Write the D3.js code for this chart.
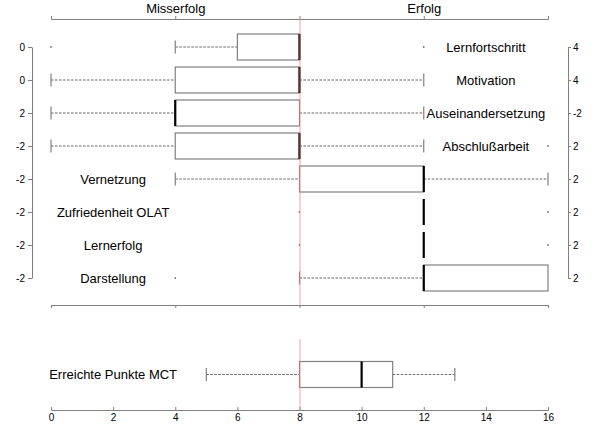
<!DOCTYPE html>
<html><head><meta charset="utf-8">
<script src="https://cdn.jsdelivr.net/npm/d3@7"></script>
<style>
body{margin:0;background:#fff;}
svg{font-family:"Liberation Sans",Arial,sans-serif;}
</style></head>
<body><svg id="c" width="600" height="425"></svg>
<script>
const categories = ["Lernfortschritt","Motivation","Auseinandersetzung","Abschlußarbeit","Vernetzung","Zufriedenheit OLAT","Lernerfolg","Darstellung"];
const labelPos = [14,14,14,14,2,2,2,2];
const leftLabels = ["0","0","2","-2","-2","-2","-2","-2"];
const rightLabels = ["4","4","-2","2","2","2","2","2"];
const whiskerLo = [4,0,0,0,4,12,12,8];
const q1 = [6,4,4,4,8,12,12,12];
const median = [8,8,4,8,12,12,12,12];
const q3 = [8,8,8,8,12,12,12,16];
const whiskerHi = [8,12,12,12,16,12,12,16];
const outliers = [[0,12],[],[],[16],[],[8,16],[8,16],[4]];

const mctCategory = ["Erreichte Punkte MCT"];
const mctLabelPos = [2];
const mctWhiskerLo = [5];
const mctQ1 = [8];
const mctMedian = [10];
const mctQ3 = [11];
const mctWhiskerHi = [13];
const mctOutliers = [[]];

const topTicks = [0,4,8,12,16];
const topTickLabels = {4:"Misserfolg",12:"Erfolg"};
const bottomTicks = [0,2,4,6,8,10,12,14,16];
const threshold = 8;

const svg = d3.select("#c");
const x = d3.scaleLinear().domain([0,16]).range([51,548]);
const y = d3.scalePoint().domain(categories).range([47,278]);
const y2 = d3.scalePoint().domain(mctCategory).range([360,389]).padding(0.5);
const boxH = 26, staple = 13;
const gray = "#808080";

function styleAxis(g){
  g.selectAll("path.domain").attr("stroke",gray);
  g.selectAll(".tick line").attr("stroke",gray);
  g.selectAll(".tick text").attr("fill","#000");
}

svg.append("g").attr("transform","translate(0,19)")
  .call(d3.axisTop(x).tickValues(topTicks).tickSizeInner(3).tickSizeOuter(3).tickPadding(3)
    .tickFormat(d=>topTickLabels[d]||""))
  .call(g=>g.selectAll("text").attr("font-size",13).attr("font-family","Liberation Sans, Arial, sans-serif"))
  .call(styleAxis);

svg.append("g").attr("transform","translate(0,305)")
  .call(d3.axisBottom(x).tickValues(topTicks).tickSizeInner(3).tickSizeOuter(3).tickFormat(""))
  .call(styleAxis);

svg.append("g").attr("transform","translate(32,0)")
  .call(d3.axisLeft(y).tickSizeInner(4).tickSizeOuter(0).tickPadding(3)
    .tickFormat((d,i)=>leftLabels[i]))
  .call(g=>g.selectAll("text").attr("font-size",10).attr("font-family","Liberation Sans, Arial, sans-serif"))
  .call(styleAxis);

svg.append("g").attr("transform","translate(568,0)")
  .call(d3.axisRight(y).tickSizeInner(3).tickSizeOuter(0).tickPadding(2)
    .tickFormat((d,i)=>rightLabels[i]))
  .call(g=>g.selectAll("text").attr("font-size",10).attr("font-family","Liberation Sans, Arial, sans-serif"))
  .call(styleAxis);

svg.append("g").attr("transform","translate(0,410)")
  .call(d3.axisBottom(x).tickValues(bottomTicks).tickSizeInner(-3).tickSizeOuter(-3).tickPadding(4))
  .call(g=>g.selectAll("text").attr("font-size",10).attr("font-family","Liberation Sans, Arial, sans-serif"))
  .call(styleAxis);

function drawBoxes(cats, yS, lo, a, m, b, hi, outs, lp){
  const g = svg.append("g");
  cats.forEach((c,i)=>{
    const cy = yS(c);
    g.append("text").attr("x",x(lp[i])).attr("y",cy).attr("dy","0.35em")
      .attr("text-anchor","middle").attr("font-size",13).attr("fill","#000").text(c);
    const dash = "2.5,1.5";
    if(lo[i] < a[i]){
      g.append("line").attr("x1",x(lo[i])).attr("x2",x(a[i])).attr("y1",cy).attr("y2",cy)
        .attr("stroke","#666").attr("stroke-dasharray",dash);
      g.append("line").attr("x1",x(lo[i])).attr("x2",x(lo[i])).attr("y1",cy-staple/2).attr("y2",cy+staple/2)
        .attr("stroke",gray).attr("stroke-width",1.2);
    }
    if(hi[i] > b[i]){
      g.append("line").attr("x1",x(b[i])).attr("x2",x(hi[i])).attr("y1",cy).attr("y2",cy)
        .attr("stroke","#666").attr("stroke-dasharray",dash);
      g.append("line").attr("x1",x(hi[i])).attr("x2",x(hi[i])).attr("y1",cy-staple/2).attr("y2",cy+staple/2)
        .attr("stroke",gray).attr("stroke-width",1.2);
    }
    if(b[i] > a[i]){
      g.append("rect").attr("x",x(a[i])).attr("y",cy-boxH/2).attr("width",x(b[i])-x(a[i])).attr("height",boxH)
        .attr("fill","#fff").attr("stroke",gray).attr("stroke-width",1.2);
    }
    g.append("line").attr("x1",x(m[i])).attr("x2",x(m[i])).attr("y1",cy-boxH/2).attr("y2",cy+boxH/2)
      .attr("stroke","#000").attr("stroke-width",2.2);
    outs[i].forEach(o=>{
      g.append("rect").attr("x",x(o)-0.7).attr("y",cy-0.7).attr("width",1.4).attr("height",1.4).attr("fill","#444");
    });
  });
}

drawBoxes(categories, y, whiskerLo, q1, median, q3, whiskerHi, outliers, labelPos);
drawBoxes(mctCategory, y2, mctWhiskerLo, mctQ1, mctMedian, mctQ3, mctWhiskerHi, mctOutliers, mctLabelPos);

// threshold red line (light red)
[[19,305],[339,410]].forEach(([a,b])=>{
  svg.append("line").attr("x1",x(threshold)+0.5).attr("x2",x(threshold)+0.5).attr("y1",a).attr("y2",b)
    .style("stroke","rgb(255,130,130)").style("stroke-width","1px").style("stroke-opacity",0.75);
});
</script></body></html>
